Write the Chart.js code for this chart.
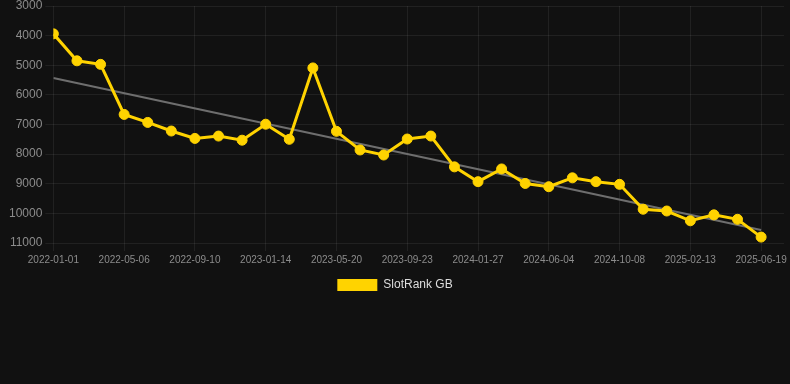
<!DOCTYPE html>
<html>
<head>
<meta charset="utf-8">
<script src="https://cdn.jsdelivr.net/npm/chart.js@4/dist/chart.umd.min.js"></script>
<style>
  html, body { margin: 0; padding: 0; background: #111111; }
  #wrap { position: relative; width: 790px; height: 301px; }
</style>
</head>
<body>
<div id="wrap"><canvas id="c"></canvas></div>
<script>
const dateLabels = [
  "2022-01-01", "2022-02-12", "2022-03-26", "2022-05-06", "2022-06-17", "2022-07-29",
  "2022-09-10", "2022-10-22", "2022-12-03", "2023-01-14", "2023-02-25", "2023-04-08",
  "2023-05-20", "2023-07-01", "2023-08-12", "2023-09-23", "2023-11-04", "2023-12-16",
  "2024-01-27", "2024-03-09", "2024-04-22", "2024-06-04", "2024-07-16", "2024-08-27",
  "2024-10-08", "2024-11-20", "2025-01-01", "2025-02-13", "2025-03-28", "2025-05-09",
  "2025-06-19"
];
const rankValues = [
  3940, 4850, 4970, 6660, 6930, 7220, 7470, 7390, 7530, 6990, 7500, 5090,
  7230, 7860, 8030, 7490, 7390, 8430, 8930, 8500, 8990, 9100, 8800, 8930,
  9020, 9860, 9920, 10250, 10050, 10200, 10800
];
const trendIndex = [0, 30];
const trendValues = [5430, 10560];
const yTicks = [3000, 4000, 5000, 6000, 7000, 8000, 9000, 10000, 11000];
const seriesName = "SlotRank GB";

Chart.defaults.font.family = "'Liberation Sans', Arial, Helvetica, sans-serif";

const rankPoints = rankValues.map((v, i) => ({ x: i, y: v }));
const trendPoints = trendValues.map((v, i) => ({ x: trendIndex[i], y: v }));

new Chart(document.getElementById('c'), {
  type: 'line',
  data: {
    datasets: [
      {
        label: seriesName,
        data: rankPoints,
        borderColor: '#FFD300',
        backgroundColor: '#FFD300',
        pointBackgroundColor: '#FFD300',
        pointBorderColor: '#FFD300',
        borderWidth: 3,
        pointRadius: 5,
        pointBorderWidth: 1,
        tension: 0,
        order: 1
      },
      {
        label: 'trend',
        data: trendPoints,
        borderColor: '#6e6e6e',
        backgroundColor: '#6e6e6e',
        borderWidth: 2,
        pointRadius: 0,
        tension: 0,
        order: 2
      }
    ]
  },
  options: {
    responsive: true,
    maintainAspectRatio: false,
    animation: false,
    plugins: {
      legend: {
        position: 'bottom',
        labels: {
          color: '#dddddd',
          boxWidth: 40,
          boxHeight: 12,
          font: { size: 12 },
          filter: (item) => item.datasetIndex === 0,
          generateLabels: (chart) => Chart.defaults.plugins.legend.labels.generateLabels(chart)
            .map(it => Object.assign(it, { lineWidth: 0 }))
        }
      },
      tooltip: { enabled: false }
    },
    scales: {
      x: {
        type: 'linear',
        min: 0,
        max: 30.97,
        grid: { color: 'rgba(255,255,255,0.07)' },
        border: { display: false },
        afterBuildTicks: (scale) => {
          scale.ticks = dateLabels.map((d, i) => i).filter(i => i % 3 === 0).map(i => ({ value: i }));
        },
        ticks: {
          color: '#8c8c8c',
          font: { size: 10 },
          maxRotation: 0,
          autoSkip: false,
          callback: (v) => dateLabels[v] !== undefined ? dateLabels[v] : ''
        }
      },
      y: {
        reverse: true,
        min: yTicks[0],
        max: yTicks[yTicks.length - 1],
        grid: { color: 'rgba(255,255,255,0.07)' },
        border: { display: false },
        afterBuildTicks: (scale) => {
          scale.ticks = yTicks.map(v => ({ value: v }));
        },
        afterFit: (scale) => { scale.width += 6; },
        ticks: {
          color: '#8c8c8c',
          font: { size: 12, lineHeight: 0.5 },
          callback: (v) => String(v)
        }
      }
    }
  }
});
</script>
</body>
</html>
